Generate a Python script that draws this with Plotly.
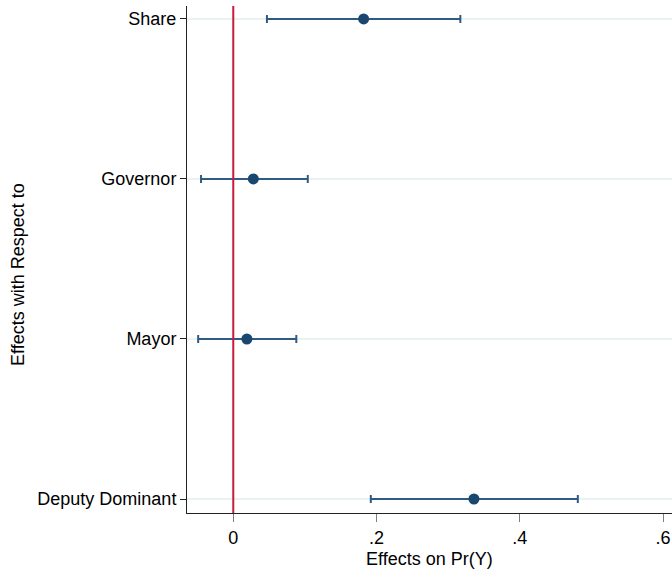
import plotly.graph_objects as go

# Marginal effects with 95% confidence intervals
labels = ["Share", "Governor", "Mayor", "Deputy Dominant"]
estimate = [0.182, 0.028, 0.019, 0.336]
ci_low = [0.047, -0.045, -0.049, 0.192]
ci_high = [0.317, 0.104, 0.088, 0.481]

x_ticks = [0, 0.2, 0.4, 0.6]
x_tick_text = ["0", ".2", ".4", ".6"]

FONT = "Liberation Sans, Arial, sans-serif"
NAVY = "#1a476f"
BAR = "#2e5b84"
RED = "#c8193f"

err_plus = [h - e for h, e in zip(ci_high, estimate)]
err_minus = [e - l for e, l in zip(estimate, ci_low)]

fig = go.Figure()
fig.add_trace(go.Scatter(
    x=estimate,
    y=labels,
    mode="markers",
    marker=dict(color=NAVY, size=11),
    error_x=dict(type="data", symmetric=False, array=err_plus,
                 arrayminus=err_minus, color=BAR, thickness=2, width=4),
    showlegend=False,
    cliponaxis=False,
))

# reference line at zero effect
fig.add_shape(type="line", xref="x", yref="paper", x0=0, x1=0, y0=0, y1=1,
              line=dict(color=RED, width=2), layer="above")

fig.update_layout(
    width=672, height=576,
    margin=dict(l=187, r=0, t=6, b=63),
    paper_bgcolor="white", plot_bgcolor="white",
    font=dict(family=FONT, size=18, color="black"),
    xaxis=dict(
        range=[-0.0646, 0.6125],
        tickvals=x_ticks, ticktext=x_tick_text,
        ticks="outside", ticklen=8, tickwidth=1, tickcolor="#808080",
        showline=True, linecolor="#222222", linewidth=1,
        showgrid=False, zeroline=False, automargin=False,
    ),
    yaxis=dict(
        type="category",
        categoryorder="array",
        categoryarray=list(reversed(labels)),
        range=[-0.0875, 3.081],
        ticks="outside", ticklen=6, tickwidth=1, tickcolor="#222222",
        showline=True, linecolor="#222222", linewidth=1,
        showgrid=True, gridcolor="#eaf2f3", gridwidth=2,
        zeroline=False, automargin=False,
    ),
    annotations=[
        dict(text="Effects on Pr(Y)", xref="paper", yref="paper",
             x=0.5, y=-0.09, xanchor="center", yanchor="middle",
             showarrow=False, font=dict(family=FONT, size=18)),
        dict(text="Effects with Respect to", xref="paper", yref="paper",
             x=(18 - 187) / 485, y=(513 - 275) / 507,
             xanchor="center", yanchor="middle", textangle=-90,
             showarrow=False, font=dict(family=FONT, size=18)),
    ],
)

fig.write_html("out.html")
